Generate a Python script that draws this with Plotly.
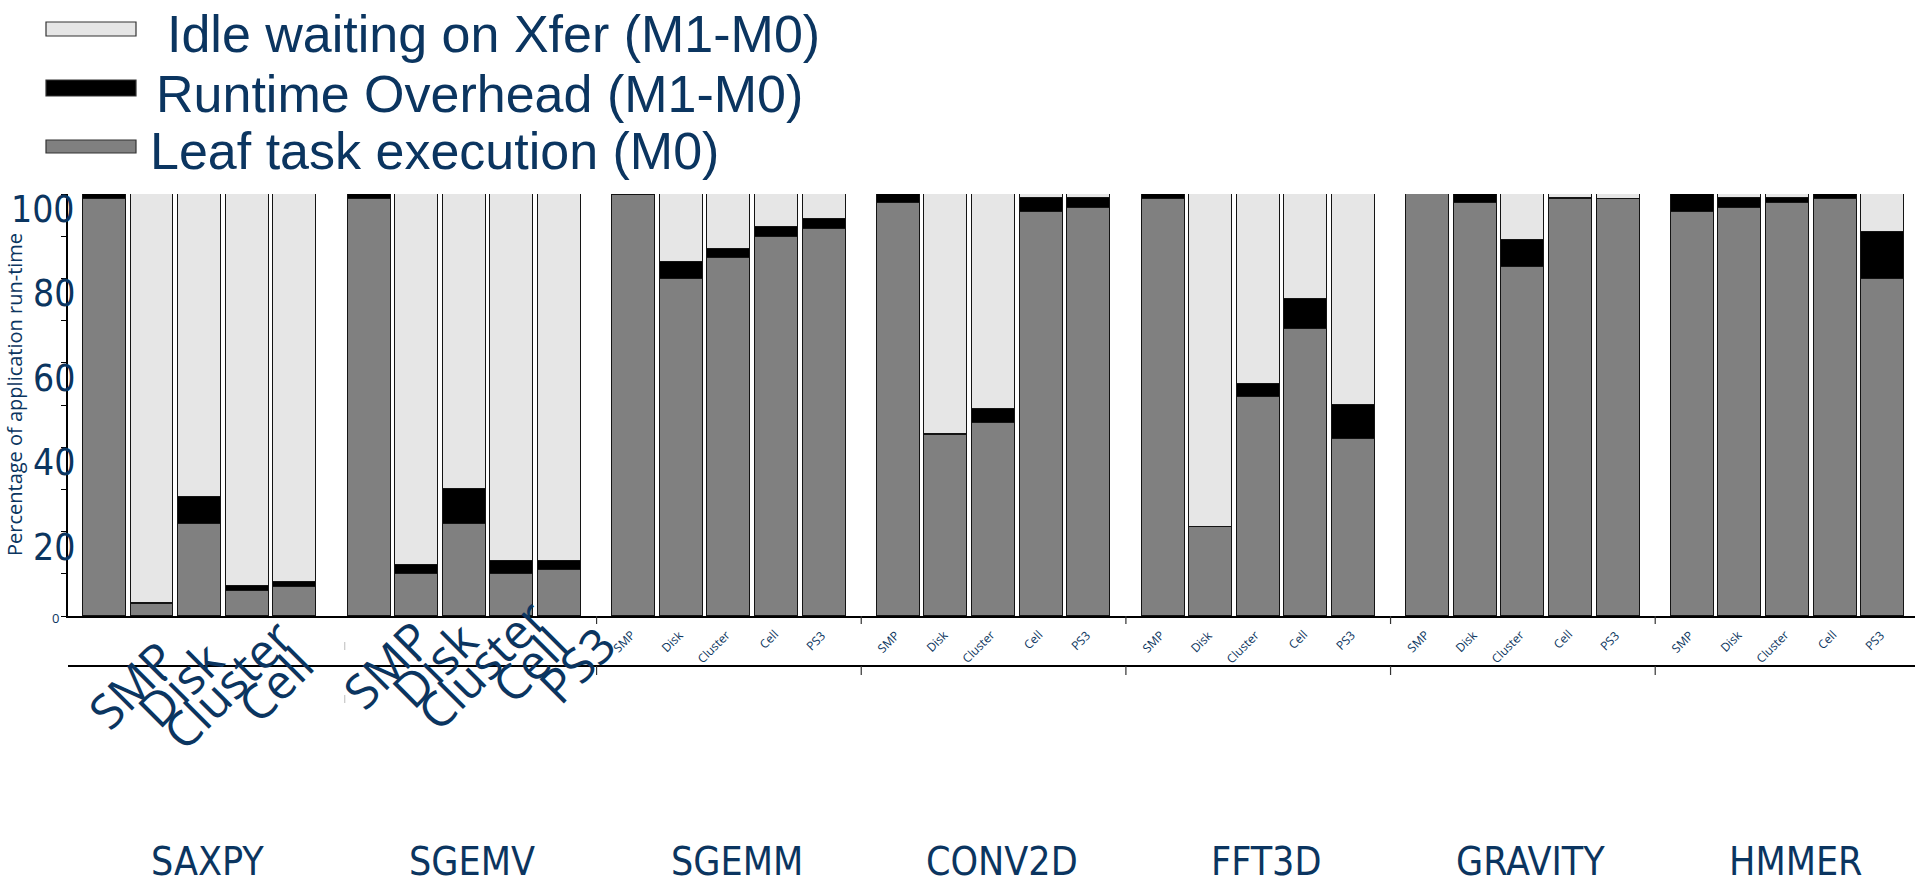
import plotly.graph_objects as go

# Benchmarks and platform configurations
groups = ["SAXPY", "SGEMV", "SGEMM", "CONV2D", "FFT3D", "GRAVITY", "HMMER"]
configs = ["SMP", "Disk", "Cluster", "Cell", "PS3"]

# Percentage of application run-time, one row per benchmark (SMP, Disk, Cluster, Cell, PS3)
leaf_exec = [
    [98.9, 2.9, 21.8, 5.9, 6.8],
    [98.9, 9.9, 21.8, 9.9, 10.9],
    [99.8, 79.9, 84.8, 89.9, 91.8],
    [97.8, 42.9, 45.7, 95.8, 96.7],
    [98.9, 21.0, 51.9, 67.9, 41.9],
    [100.0, 97.8, 82.7, 98.9, 98.9],
    [95.8, 96.7, 97.8, 98.9, 79.9],
]
runtime_overhead = [
    [1.1, 0.2, 6.3, 1.2, 1.3],
    [1.1, 2.3, 8.3, 3.2, 2.2],
    [0.2, 4.1, 2.2, 2.2, 2.3],
    [2.2, 0.2, 3.4, 3.3, 2.4],
    [1.1, 0.0, 3.1, 7.3, 8.2],
    [0.0, 2.2, 6.3, 0.2, 0.0],
    [4.2, 2.4, 1.3, 1.1, 11.1],
]
idle_xfer = [
    [0.0, 96.9, 71.9, 92.9, 91.9],
    [0.0, 87.8, 69.9, 86.9, 86.9],
    [0.0, 16.0, 13.0, 7.9, 5.9],
    [0.0, 56.9, 50.9, 0.9, 0.9],
    [0.0, 79.0, 45.0, 24.8, 49.9],
    [0.0, 0.0, 11.0, 0.9, 1.1],
    [0.0, 0.9, 0.9, 0.0, 9.0],
]

series_names = ["Leaf task execution (M0)", "Runtime Overhead (M1-M0)", "Idle waiting on Xfer (M1-M0)"]
series_colors = ["#808080", "#000000", "#e6e6e6"]
y_ticks = [0, 20, 40, 60, 80, 100]

NAVY = "#0b3560"
OUTLINE = "#141414"
NARROW = "DejaVu Sans Condensed, Liberation Sans, sans-serif"
GROUP_STEP = 5.56
BAR_W = 0.903

# geometry of the plotting area (pixels)
W, H = 1915, 887
ML, MT, MB = 68, 194, 271
PLOT_W = W - ML
PLOT_H = H - MT - MB
X0_PX, UNIT_PX = 104.4, 47.6


def xpos(g, i):
    return g * GROUP_STEP + i


def paper_x(px):
    return (px - ML) / PLOT_W


def paper_y(py):
    return (H - MB - py) / PLOT_H


xs, leaf_v, over_v, idle_v = [], [], [], []
for g in range(len(groups)):
    for i in range(len(configs)):
        xs.append(xpos(g, i))
        leaf_v.append(leaf_exec[g][i])
        over_v.append(runtime_overhead[g][i])
        idle_v.append(idle_xfer[g][i])

fig = go.Figure()
for name, vals, col in zip(series_names, [leaf_v, over_v, idle_v], series_colors):
    fig.add_trace(go.Bar(
        x=xs, y=vals, name=name, width=BAR_W, showlegend=False,
        marker=dict(color=col, line=dict(color=OUTLINE, width=1.5)),
    ))

shapes = []
annotations = []

# legend: swatches and labels
legend_rows = [
    (series_names[2], series_colors[2], 22, 36, 165, 31),
    (series_names[1], series_colors[1], 80, 96, 154, 91),
    (series_names[0], series_colors[0], 140, 153, 148, 148),
]
for text, col, y0, y1, tx, ty in legend_rows:
    shapes.append(dict(type="rect", xref="paper", yref="paper",
                       x0=paper_x(46), x1=paper_x(136), y0=paper_y(y1), y1=paper_y(y0),
                       fillcolor=col, line=dict(color="#333333", width=1.2)))
    annotations.append(dict(text=text, xref="paper", yref="paper",
                            x=paper_x(tx), y=paper_y(ty + 3), xanchor="left", yanchor="middle",
                            showarrow=False, font=dict(family="Liberation Sans", size=52, color=NAVY)))

# y tick labels
for v in y_ticks:
    if v == 0:
        annotations.append(dict(text="0", xref="paper", yref="y", x=paper_x(55), y=0,
                                xanchor="center", yanchor="middle", yshift=-2, showarrow=False,
                                font=dict(family="Open Sans", size=13, color=NAVY)))
    else:
        annotations.append(dict(text=str(v), xref="paper", yref="y", x=paper_x(77), y=v,
                                xanchor="right", yanchor="top", yshift=8, showarrow=False,
                                font=dict(family=NARROW, size=37, color=NAVY)))

# y axis title
annotations.append(dict(text="Percentage of application run-time", xref="paper", yref="paper",
                        x=paper_x(14), y=paper_y(395), xanchor="center", yanchor="middle",
                        textangle=-90, showarrow=False,
                        font=dict(family="Open Sans", size=20, color=NAVY)))

# configuration labels
big_label_offsets = {0: (27, -68, 4), 1: (17, -48, 5)}
for g in range(len(groups)):
    if g in big_label_offsets:
        dx, dy, n = big_label_offsets[g]
        for i in range(n):
            annotations.append(dict(text=configs[i], xref="x", yref="y", x=xpos(g, i), y=0,
                                    xshift=dx, yshift=dy, xanchor="center", yanchor="middle",
                                    textangle=-45, showarrow=False,
                                    font=dict(family="Open Sans", size=48, color=NAVY)))
    else:
        for i in range(len(configs)):
            annotations.append(dict(text=configs[i], xref="x", yref="y", x=xpos(g, i), y=0,
                                    xshift=8, yshift=-8, xanchor="right", yanchor="top",
                                    textangle=-45, showarrow=False,
                                    font=dict(family="Open Sans", size=12, color=NAVY)))

# benchmark names
for g, name in enumerate(groups):
    annotations.append(dict(text=name, xref="x", yref="paper", x=xpos(g, 2), y=paper_y(886),
                            xshift=8, xanchor="center", yanchor="bottom", showarrow=False,
                            font=dict(family=NARROW, size=39, color=NAVY)))

# second axis rule and group dividers
y_rule = paper_y(666)
shapes.append(dict(type="line", xref="paper", yref="paper", x0=0, x1=1, y0=y_rule, y1=y_rule,
                   line=dict(color="#000000", width=2)))
for g in range(1, len(groups)):
    bx = xpos(g - 1, 4) + (GROUP_STEP - 4) / 2
    if g == 1:
        bx += 0.27
        for a, b in [(642, 650), (695, 703)]:
            shapes.append(dict(type="line", xref="x", yref="paper", x0=bx, x1=bx,
                               y0=paper_y(a), y1=paper_y(b), line=dict(color="#bbbbbb", width=1)))
        continue
    shapes.append(dict(type="line", xref="x", yref="paper", x0=bx, x1=bx,
                       y0=paper_y(616), y1=paper_y(624), line=dict(color="#333333", width=1.2)))
    shapes.append(dict(type="line", xref="x", yref="paper", x0=bx, x1=bx,
                       y0=paper_y(666), y1=paper_y(675), line=dict(color="#333333", width=1.2)))

fig.update_layout(
    width=W, height=H, autosize=False,
    margin=dict(l=ML, r=0, t=MT, b=MB, pad=0),
    paper_bgcolor="white", plot_bgcolor="white",
    barmode="stack", bargap=0,
    shapes=shapes, annotations=annotations,
    xaxis=dict(range=[(ML - X0_PX) / UNIT_PX, (W - X0_PX) / UNIT_PX], showgrid=False, zeroline=False,
               showticklabels=False, ticks="", showline=True, linecolor="#000000", linewidth=2),
    yaxis=dict(range=[0, 100], showgrid=False, zeroline=False, showticklabels=False,
               ticks="outside", tickvals=list(range(0, 101, 10)), ticklen=5, tickcolor="#000000",
               tickwidth=1, showline=True, linecolor="#000000", linewidth=1.5),
)

fig.write_html("out.html")
